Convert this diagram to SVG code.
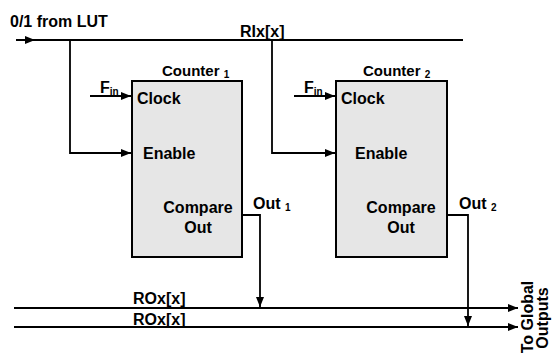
<svg xmlns="http://www.w3.org/2000/svg" width="554" height="354" viewBox="0 0 554 354">
<defs>
<marker id="ah" viewBox="0 0 10 8" refX="10" refY="4" markerWidth="10" markerHeight="8" markerUnits="userSpaceOnUse" orient="auto">
<path d="M0,0 L10,4 L0,8 Z" fill="#000"/>
</marker>
</defs>
<style>
text{font-family:"Liberation Sans",Arial,sans-serif;font-weight:bold;fill:#000}
.t{font-size:16px}
.c{font-size:15px}
.s{font-size:10px}
.w{fill:none;stroke:#000;stroke-width:1.8}
.box{fill:#e6e6e6;stroke:#000;stroke-width:2}
</style>
<g id="connectors">
<path class="w" d="M16,40 H463"/>
<path class="w" d="M16,40 H35" marker-end="url(#ah)"/>
<path class="w" d="M70,40 V153 H131" marker-end="url(#ah)"/>
<path class="w" d="M272,40 V153 H335" marker-end="url(#ah)"/>
<path class="w" d="M90,96 H131" marker-end="url(#ah)"/>
<path class="w" d="M294,96 H335" marker-end="url(#ah)"/>
<path class="w" d="M242,215 H260 V307" marker-end="url(#ah)"/>
<path class="w" d="M447,215 H468 V326" marker-end="url(#ah)"/>
<path class="w" d="M14,308 H518" marker-end="url(#ah)"/>
<path class="w" d="M14,327 H518" marker-end="url(#ah)"/>
</g>
<g id="input-label"><text class="t" x="10" y="27">0/1 from LUT</text></g>
<g id="rix-label"><text class="t" x="240" y="37">RIx[x]</text></g>
<g id="counter1">
<rect class="box" x="132" y="81" width="110" height="176"/>
<text class="c" x="162" y="76">Counter <tspan class="s" dy="2">1</tspan></text>
<text class="t" x="100" y="93">F<tspan class="s" dy="2">in</tspan></text>
<text class="t" x="137" y="104">Clock</text>
<text class="t" x="143" y="159">Enable</text>
<text class="t" x="198" y="213" text-anchor="middle">Compare</text>
<text class="t" x="198" y="233" text-anchor="middle">Out</text>
<text class="t" x="253" y="209">Out <tspan class="s" dy="2">1</tspan></text>
</g>
<g id="counter2">
<rect class="box" x="336" y="81" width="111" height="176"/>
<text class="c" x="363" y="76">Counter <tspan class="s" dy="2">2</tspan></text>
<text class="t" x="304" y="93">F<tspan class="s" dy="2">in</tspan></text>
<text class="t" x="341" y="104">Clock</text>
<text class="t" x="355" y="159">Enable</text>
<text class="t" x="401" y="213" text-anchor="middle">Compare</text>
<text class="t" x="401" y="233" text-anchor="middle">Out</text>
<text class="t" x="459" y="209">Out <tspan class="s" dy="2">2</tspan></text>
</g>
<g id="bus-labels">
<text class="t" x="133" y="304">ROx[x]</text>
<text class="t" x="133" y="325">ROx[x]</text>
</g>
<g id="global-outputs">
<text class="t" transform="translate(533,317) rotate(-90)" text-anchor="middle">To Global</text>
<text class="t" transform="translate(548,318) rotate(-90)" text-anchor="middle">Outputs</text>
</g>
</svg>
